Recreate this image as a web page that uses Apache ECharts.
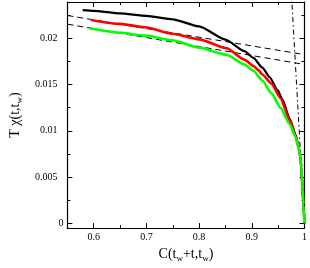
<!DOCTYPE html>
<html>
<head>
<meta charset="utf-8">
<script src="https://cdn.jsdelivr.net/npm/echarts@6/dist/echarts.min.js"></script>
<style>
html,body{margin:0;padding:0;background:#fff;}
#c{width:310px;height:268px;}
</style>
</head>
<body>
<div id="c"></div>
<script>
// ---- data ----
const xTicks = [0.6, 0.7, 0.8, 0.9, 1];
const xTickLabels = ['0.6', '0.7', '0.8', '0.9', '1'];
const yTicks = [0, 0.005, 0.01, 0.015, 0.02];
const yTickLabels = ['0', '0.005', '0.01', '0.015', '0.02'];

const blackC   = [0.579, 0.60, 0.65, 0.70, 0.75, 0.80, 0.85, 0.886, 0.903, 0.920, 0.934, 0.949, 0.958, 0.972, 0.983, 0.989, 0.992, 0.994, 0.996, 0.998, 1.0];
const blackChi = [0.02306, 0.02298, 0.0227, 0.02244, 0.02207, 0.02130, 0.01987, 0.01862, 0.01789, 0.01684, 0.0158, 0.0144, 0.0134, 0.0113, 0.0096, 0.0082, 0.0072, 0.006, 0.004, 0.002, 0];

const redC   = [0.5946, 0.65, 0.6974, 0.749, 0.80, 0.852, 0.886, 0.903, 0.9117, 0.920, 0.9375, 0.9546, 0.972, 0.983, 0.989, 0.992, 0.994, 0.996, 0.998, 1.0];
const redChi = [0.0220, 0.02157, 0.0212, 0.0205, 0.0199, 0.01893, 0.01771, 0.01702, 0.0166, 0.0161, 0.0151, 0.01353, 0.0111, 0.0095, 0.0082, 0.0072, 0.006, 0.004, 0.002, 0];

const greenC   = [0.5917, 0.65, 0.6974, 0.749, 0.80, 0.852, 0.886, 0.903, 0.920, 0.9375, 0.9546, 0.9717, 0.9832, 0.989, 0.992, 0.994, 0.996, 0.998, 1.0];
const greenChi = [0.0211, 0.02062, 0.0203, 0.0198, 0.0190, 0.01823, 0.01719, 0.0165, 0.01545, 0.01405, 0.01248, 0.01074, 0.0093, 0.0081, 0.0072, 0.006, 0.004, 0.002, 0];

const dashUpperC = [0.55, 1.0];
const dashUpperChi = [0.02248, 0.01825];
const dashLowerC = [0.55, 1.0];
const dashLowerChi = [0.02154, 0.01718];
const fdtC = [0.975, 1.0];
const fdtChi = [0.025, 0.0];

// ---- chart ----
const zip = (a, b) => a.map((v, i) => [v, b[i]]);
const FONT = 'Liberation Serif';
const xMin = 0.55, xMax = 1.0, yMin = -0.000523, yMax = 0.02394;

function xAxisDef(pos, labels) {
  return {
    type: 'value', position: pos, min: xMin, max: xMax,
    axisLine: { show: true, onZero: false, lineStyle: { color: '#000', width: 1.2 } },
    axisTick: { show: true, inside: true, length: 5, customValues: xTicks, lineStyle: { color: '#000', width: 1 } },
    minorTick: { show: true, splitNumber: 2, length: 3, lineStyle: { color: '#000', width: 1 } },
    axisLabel: labels ? {
      show: true, customValues: xTicks, margin: 4,
      formatter: v => xTickLabels[xTicks.findIndex(t => Math.abs(t - v) < 1e-9)] || '',
      fontFamily: FONT, fontSize: 10, color: '#000'
    } : { show: false },
    splitLine: { show: false }, minorSplitLine: { show: false }
  };
}
function yAxisDef(pos, labels) {
  return {
    type: 'value', position: pos, min: yMin, max: yMax,
    axisLine: { show: true, onZero: false, lineStyle: { color: '#000', width: 1.2 } },
    axisTick: { show: true, inside: true, length: 5, customValues: yTicks, lineStyle: { color: '#000', width: 1 } },
    minorTick: { show: true, splitNumber: 2, length: 3, lineStyle: { color: '#000', width: 1 } },
    axisLabel: labels ? {
      show: true, customValues: yTicks, margin: 4,
      formatter: v => {
        const i = yTicks.findIndex(t => Math.abs(t - v) < 1e-9);
        if (i < 0) return '';
        return i === 0 ? yTickLabels[i] : '{p|' + yTickLabels[i] + '}';
      },
      rich: { p: { fontFamily: FONT, fontSize: 10, color: '#000', padding: [0, 6, 0, 0] } },
      fontFamily: FONT, fontSize: 10, color: '#000'
    } : { show: false },
    splitLine: { show: false }, minorSplitLine: { show: false }
  };
}

const nameRich = {
  a: { fontFamily: FONT, fontSize: 14, color: '#000' },
  s: { fontFamily: FONT, fontSize: 9, color: '#000', padding: [9, 0, 0, 0] }
};

const xa0 = xAxisDef('bottom', true);
xa0.name = '{a|C(t}{s|w}{a|+t,t}{s|w}{a|)}';
xa0.nameLocation = 'middle';
xa0.nameGap = 16;
xa0.nameTextStyle = { fontFamily: FONT, fontSize: 14, color: '#000', rich: nameRich };

const ya0 = yAxisDef('left', true);
ya0.name = '{a|T χ(t,t}{s|w}{a|)}';
ya0.nameLocation = 'middle';
ya0.nameGap = 31;
ya0.nameTextStyle = { fontFamily: FONT, fontSize: 14, color: '#000', rich: nameRich };

const lineCommon = { type: 'line', showSymbol: false, symbol: 'none', xAxisIndex: 0, yAxisIndex: 0, animation: false, clip: true };

const option = {
  animation: false,
  backgroundColor: '#fff',
  grid: { left: 44, right: 3, top: 2, bottom: 32 },
  xAxis: [xa0, xAxisDef('top', false)],
  yAxis: [ya0, yAxisDef('right', false)],
  series: [
    Object.assign({}, lineCommon, { data: zip(dashUpperC, dashUpperChi), lineStyle: { color: '#000', width: 1, type: [6, 4] } }),
    Object.assign({}, lineCommon, { data: zip(dashLowerC, dashLowerChi), lineStyle: { color: '#000', width: 1, type: [6, 4] } }),
    Object.assign({}, lineCommon, { data: zip(fdtC, fdtChi), lineStyle: { color: '#000', width: 1, type: [5, 3, 1.5, 3] } }),
    Object.assign({}, lineCommon, { data: zip(blackC, blackChi), smooth: 0.2, smoothMonotone: 'x', lineStyle: { color: '#000000', width: 2.2 } }),
    Object.assign({}, lineCommon, { data: zip(redC, redChi), smooth: 0.2, smoothMonotone: 'x', lineStyle: { color: '#ff0000', width: 2.6 } }),
    Object.assign({}, lineCommon, { data: zip(greenC, greenChi), smooth: 0.2, smoothMonotone: 'x', lineStyle: { color: '#00ff00', width: 2.6 } })
  ]
};

const chart = echarts.init(document.getElementById('c'), null, { renderer: 'canvas' });
chart.setOption(option);
</script>
</body>
</html>
